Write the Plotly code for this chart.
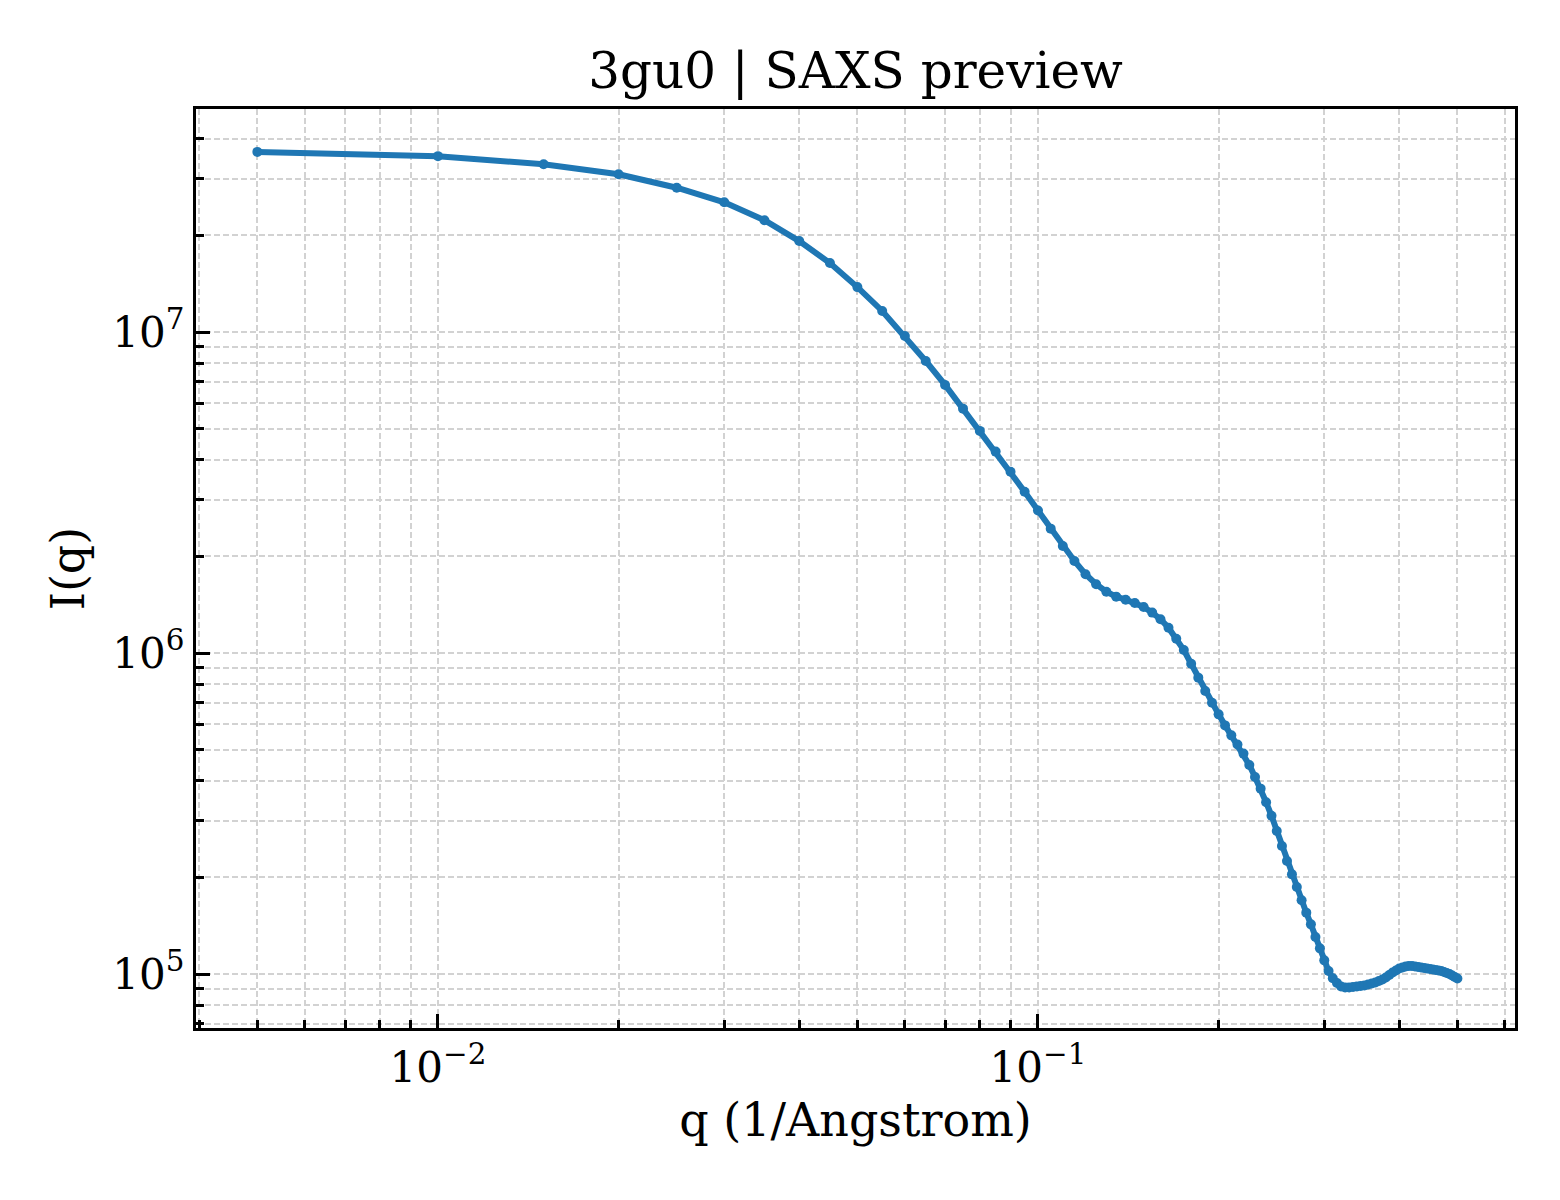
import plotly.graph_objects as go

# scattering vector q (1/Angstrom)
q_values = [
    0.005, 0.010, 0.015, 0.020, 0.025, 0.030, 0.035, 0.040, 0.045, 0.050,
    0.055, 0.060, 0.065, 0.070, 0.075, 0.080, 0.085, 0.090, 0.095, 0.100,
    0.105, 0.110, 0.115, 0.120, 0.125, 0.130, 0.135, 0.140, 0.145, 0.150,
    0.155, 0.160, 0.165, 0.170, 0.175, 0.180, 0.185, 0.190, 0.195, 0.200,
    0.205, 0.210, 0.215, 0.220, 0.225, 0.230, 0.235, 0.240, 0.245, 0.250,
    0.255, 0.260, 0.265, 0.270, 0.275, 0.280, 0.285, 0.290, 0.295, 0.300,
    0.305, 0.310, 0.315, 0.320, 0.325, 0.330, 0.335, 0.340, 0.345, 0.350,
    0.355, 0.360, 0.365, 0.370, 0.375, 0.380, 0.385, 0.390, 0.395, 0.400,
    0.405, 0.410, 0.415, 0.420, 0.425, 0.430, 0.435, 0.440, 0.445, 0.450,
    0.455, 0.460, 0.465, 0.470, 0.475, 0.480, 0.485, 0.490, 0.495, 0.500,
]

# intensity I(q)
intensity = [
    3.64e7, 3.53e7, 3.33e7, 3.10e7, 2.815e7, 2.535e7, 2.23e7, 1.92e7, 1.64e7, 1.38e7,
    1.163e7, 9.72e6, 8.12e6, 6.84e6, 5.77e6, 4.92e6, 4.24e6, 3.67e6, 3.18e6, 2.78e6,
    2.44e6, 2.155e6, 1.935e6, 1.76e6, 1.637e6, 1.552e6, 1.498e6, 1.466e6, 1.431e6, 1.391e6,
    1.336e6, 1.274e6, 1.199e6, 1.108e6, 1.022e6, 9.26e5, 8.38e5, 7.61e5, 7.0e5, 6.44e5,
    5.95e5, 5.54e5, 5.19e5, 4.86e5, 4.48e5, 4.11e5, 3.78e5, 3.43e5, 3.11e5, 2.79e5,
    2.505e5, 2.25e5, 2.044e5, 1.866e5, 1.697e5, 1.553e5, 1.428e5, 1.304e5, 1.202e5, 1.103e5,
    1.022e5, 9.70e4, 9.37e4, 9.14e4, 9.08e4, 9.08e4, 9.11e4, 9.14e4, 9.18e4, 9.21e4,
    9.27e4, 9.34e4, 9.41e4, 9.51e4, 9.61e4, 9.75e4, 9.93e4, 1.011e5, 1.025e5, 1.040e5,
    1.048e5, 1.055e5, 1.059e5, 1.059e5, 1.055e5, 1.051e5, 1.048e5, 1.044e5, 1.040e5, 1.036e5,
    1.033e5, 1.029e5, 1.025e5, 1.022e5, 1.014e5, 1.007e5, 1.000e5, 9.89e4, 9.79e4, 9.68e4,
]

x_major = [0.01, 0.1]
x_major_text = ["10<sup>\u22122</sup>", "10<sup>\u22121</sup>"]
x_minor = [0.004, 0.005, 0.006, 0.007, 0.008, 0.009,
           0.02, 0.03, 0.04, 0.05, 0.06, 0.07, 0.08, 0.09,
           0.2, 0.3, 0.4, 0.5, 0.6]

y_major = [1e5, 1e6, 1e7]
y_major_text = ["10<sup>5</sup>", "10<sup>6</sup>", "10<sup>7</sup>"]
y_minor = [7e4, 8e4, 9e4,
           2e5, 3e5, 4e5, 5e5, 6e5, 7e5, 8e5, 9e5,
           2e6, 3e6, 4e6, 5e6, 6e6, 7e6, 8e6, 9e6,
           2e7, 3e7, 4e7]

blue = "#1f77b4"
grid_color = "#d2d2d2"
font_family = "DejaVu Serif"

fig = go.Figure()
fig.add_trace(go.Scatter(
    x=q_values, y=intensity,
    mode="lines+markers",
    line=dict(color=blue, width=6),
    marker=dict(color=blue, size=10),
    showlegend=False,
))

axis_common = dict(
    type="log",
    showline=True, linecolor="black", linewidth=3.3, mirror=True,
    ticks="inside", ticklen=14, tickwidth=3.3, tickcolor="black",
    showgrid=True, gridcolor=grid_color, gridwidth=1.5, griddash="6px,3px",
    zeroline=False,
    tickfont=dict(family=font_family, size=42, color="black"),
)

minor_common = dict(
    tickmode="array", ticks="inside", ticklen=8, tickwidth=2.5,
    tickcolor="black", showgrid=True,
    gridcolor=grid_color, gridwidth=1.5, griddash="6px,3px",
)

fig.update_xaxes(
    **axis_common,
    range=[-2.4033, -0.205],
    tickmode="array", tickvals=x_major, ticktext=x_major_text,
    minor=dict(tickvals=x_minor, **minor_common),
    ticklabelstandoff=0,
    title=dict(text="q (1/Angstrom)", font=dict(family=font_family, size=46, color="black"),
               standoff=14),
)

fig.update_yaxes(
    **axis_common,
    range=[4.8318, 7.6947],
    tickmode="array", tickvals=y_major, ticktext=y_major_text,
    minor=dict(tickvals=y_minor, **minor_common),
    ticklabelstandoff=0,
    title=dict(text="I(q)", font=dict(family=font_family, size=46, color="black"),
               standoff=14),
)

fig.update_layout(
    width=1560, height=1200,
    margin=dict(l=188, r=53, t=101, b=180),
    paper_bgcolor="white", plot_bgcolor="white",
    title=dict(text="3gu0 | SAXS preview", x=0.5, xref="paper",
               y=1 - 62 / 1200, yanchor="middle",
               font=dict(family=font_family, size=50, color="black")),
    font=dict(family=font_family, color="black"),
)

fig.write_html("out.html")
